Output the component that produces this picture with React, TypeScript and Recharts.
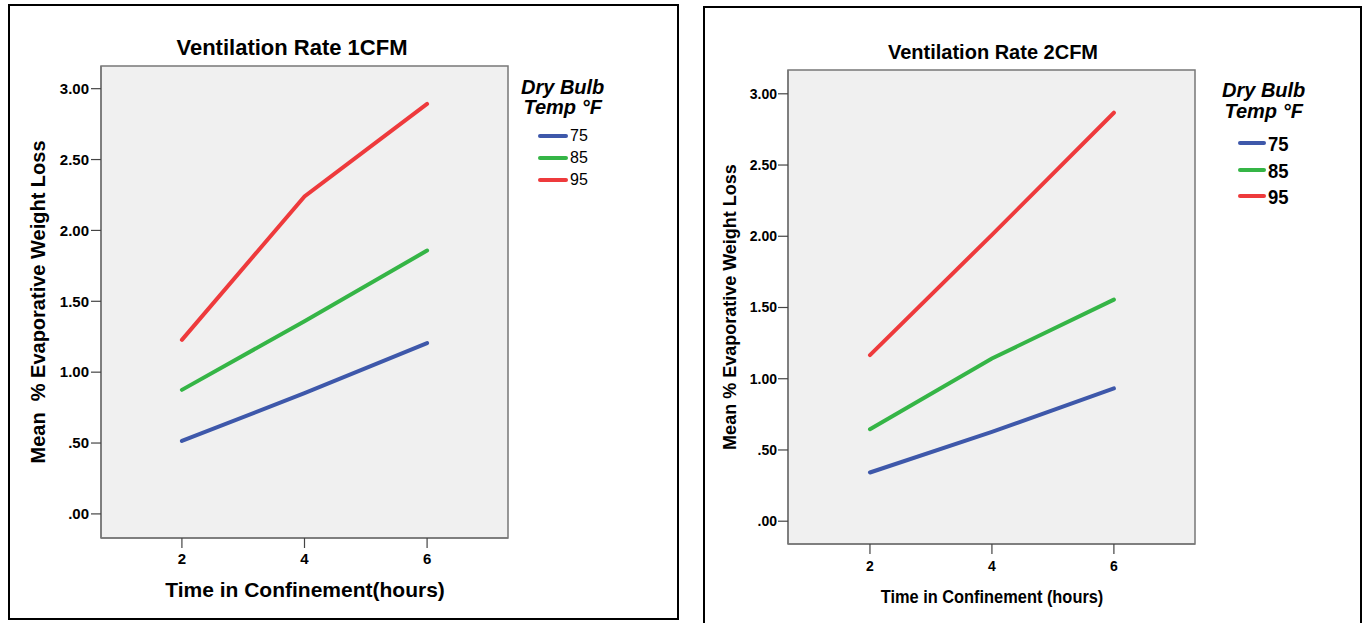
import React from 'react';
import { LineChart, Line, XAxis, YAxis, CartesianGrid, ReferenceArea } from 'recharts';

// ---- data ----
const hours = [2, 4, 6];
const tempLabels = ['75', '85', '95'];
const seriesKeys = ['t75', 't85', 't95'];
const seriesColors = ['#3E58AA', '#35B546', '#EE3A3C'];
const xTicks = [2, 4, 6];
const yTicks = [0, 0.5, 1, 1.5, 2, 2.5, 3];

// Ventilation Rate 1CFM
const cfm1_75 = [0.515, 0.852, 1.205];
const cfm1_85 = [0.875, 1.36, 1.858];
const cfm1_95 = [1.228, 2.24, 2.893];

// Ventilation Rate 2CFM
const cfm2_75 = [0.342, 0.627, 0.932];
const cfm2_85 = [0.646, 1.142, 1.555];
const cfm2_95 = [1.166, 2.01, 2.867];

const buildRows = (a: number[], b: number[], c: number[]) =>
  hours.map((h, i) => ({ hour: h, t75: a[i], t85: b[i], t95: c[i] }));

const rows1 = buildRows(cfm1_75, cfm1_85, cfm1_95);
const rows2 = buildRows(cfm2_75, cfm2_85, cfm2_95);

const FONT = '"Liberation Sans", Arial, Helvetica, sans-serif';

const fmtY = (v: number) => {
  if (v === 0) return '.00';
  if (v < 1) return '.' + Math.round(v * 100).toString();
  return v.toFixed(2);
};

type PanelCfg = {
  rows: any[];
  left: number;
  width: number;
  margin: { top: number; right: number; bottom: number; left: number };
  xDomain: [number, number];
  yDomain: [number, number];
  tickFont: any;
  yTickMargin: number;
  xTickMargin: number;
};

function Plot({ cfg }: { cfg: PanelCfg }) {
  return (
    <div style={{ position: 'absolute', left: cfg.left, top: 0 }}>
      <LineChart width={cfg.width} height={623} data={cfg.rows} margin={cfg.margin}>
        <CartesianGrid horizontal={false} vertical={false} fill="#F0F0F0" />
        <XAxis
          dataKey="hour"
          type="number"
          domain={cfg.xDomain}
          ticks={xTicks}
          allowDataOverflow
          height={30}
          tickSize={10}
          tickMargin={cfg.xTickMargin}
          tick={cfg.tickFont}
          tickLine={{ stroke: '#444', strokeWidth: 1.2 }}
          axisLine={{ stroke: '#777', strokeWidth: 1.5 }}
        />
        <YAxis
          type="number"
          domain={cfg.yDomain}
          ticks={yTicks}
          allowDataOverflow
          width={60}
          tickSize={10}
          tickMargin={cfg.yTickMargin}
          tickFormatter={fmtY}
          tick={cfg.tickFont}
          tickLine={{ stroke: '#444', strokeWidth: 1.2 }}
          axisLine={{ stroke: '#777', strokeWidth: 1.5 }}
        />
        <ReferenceArea
          x1={cfg.xDomain[0]}
          x2={cfg.xDomain[1]}
          y1={cfg.yDomain[0]}
          y2={cfg.yDomain[1]}
          fill="none"
          stroke="#777"
          strokeWidth={1.5}
          ifOverflow="visible"
        />
        {seriesKeys.map((k, i) => (
          <Line
            key={k}
            dataKey={k}
            type="linear"
            stroke={seriesColors[i]}
            strokeWidth={4}
            strokeLinecap="round"
            dot={false}
            activeDot={false}
            isAnimationActive={false}
          />
        ))}
      </LineChart>
    </div>
  );
}

function Text({ x, y, size, weight = 'bold', rotate = false, sx = 1, children }: any) {
  return (
    <div
      style={{
        position: 'absolute',
        left: x,
        top: y,
        transform: `translate(-50%, -50%)${rotate ? ' rotate(-90deg)' : ''}${sx !== 1 ? ` scaleX(${sx})` : ''}`,
        fontFamily: FONT,
        fontSize: size,
        fontWeight: weight,
        lineHeight: 1,
        whiteSpace: 'pre',
        color: '#000',
      }}
    >
      {children}
    </div>
  );
}

function LegendBlock({ x, y, titleSize, lineGap, itemTop, itemGap, itemSize, itemWeight, itemSx, lineW, textX }: any) {
  return (
    <div style={{ position: 'absolute', left: x, top: y }}>
      <div
        style={{
          fontFamily: FONT,
          fontWeight: 'bold',
          fontStyle: 'italic',
          fontSize: titleSize,
          lineHeight: `${lineGap}px`,
          textAlign: 'center',
          whiteSpace: 'pre',
        }}
      >
        {'Dry Bulb\nTemp \u00B0F'}
      </div>
      {tempLabels.map((t, i) => (
        <div key={t} style={{ position: 'absolute', left: textX - lineW - 2, top: itemTop + i * itemGap, height: 0 }}>
          <div
            style={{
              position: 'absolute',
              left: 0,
              top: -2,
              width: lineW,
              height: 4,
              borderRadius: 2,
              background: seriesColors[i],
            }}
          />
          <div
            style={{
              position: 'absolute',
              left: lineW + 2,
              top: 0,
              transform: `translateY(-50%) scaleX(${itemSx})`,
              transformOrigin: 'left center',
              fontFamily: FONT,
              fontWeight: itemWeight,
              fontSize: itemSize,
              lineHeight: 1,
            }}
          >
            {t}
          </div>
        </div>
      ))}
    </div>
  );
}

export default function App() {
  const leftCfg: PanelCfg = {
    rows: rows1,
    left: 0,
    width: 690,
    margin: { top: 66, right: 182, bottom: 55, left: 41 },
    xDomain: [0.68, 7.32],
    yDomain: [-0.17, 3.16],
    tickFont: { fill: '#000', fontSize: 15, fontWeight: 'bold', fontFamily: FONT },
    yTickMargin: 2,
    xTickMargin: 5,
  };
  const rightCfg: PanelCfg = {
    rows: rows2,
    left: 690,
    width: 674,
    margin: { top: 70, right: 169, bottom: 49, left: 38 },
    xDomain: [0.656, 7.33],
    yDomain: [-0.16, 3.167],
    tickFont: { fill: '#000', fontSize: 14, fontWeight: 'bold', fontFamily: FONT },
    yTickMargin: 1,
    xTickMargin: 7,
  };
  return (
    <div style={{ position: 'absolute', left: 0, top: 0, width: 1364, height: 623, background: '#fff', overflow: 'hidden' }}>
      {/* panel frames */}
      <div style={{ position: 'absolute', left: 8, top: 4, width: 667, height: 612, border: '2px solid #000' }} />
      <div style={{ position: 'absolute', left: 703, top: 6, width: 655, height: 630, border: '2px solid #000' }} />

      <Plot cfg={leftCfg} />
      <Plot cfg={rightCfg} />

      {/* left panel texts */}
      <Text x={292} y={48} size={22}>Ventilation Rate 1CFM</Text>
      <Text x={38} y={302} size={20} rotate>{'Mean  % Evaporative Weight Loss'}</Text>
      <Text x={305} y={589} size={21}>Time in Confinement(hours)</Text>
      <LegendBlock
        x={521}
        y={77}
        titleSize={20}
        lineGap={20}
        itemTop={59}
        itemGap={22}
        itemSize={16}
        itemWeight="normal"
        itemSx={1}
        lineW={30}
        textX={49}
      />

      {/* right panel texts */}
      <Text x={993} y={52} size={20}>Ventilation Rate 2CFM</Text>
      <Text x={730} y={307} size={18} rotate>Mean % Evaporative Weight Loss</Text>
      <Text x={992} y={597} size={18} sx={0.91}>Time in Confinement (hours)</Text>
      <LegendBlock
        x={1222}
        y={80}
        titleSize={20}
        lineGap={21}
        itemTop={63}
        itemGap={26.5}
        itemSize={21}
        itemWeight="bold"
        itemSx={0.88}
        lineW={28}
        textX={46}
      />
    </div>
  );
}
